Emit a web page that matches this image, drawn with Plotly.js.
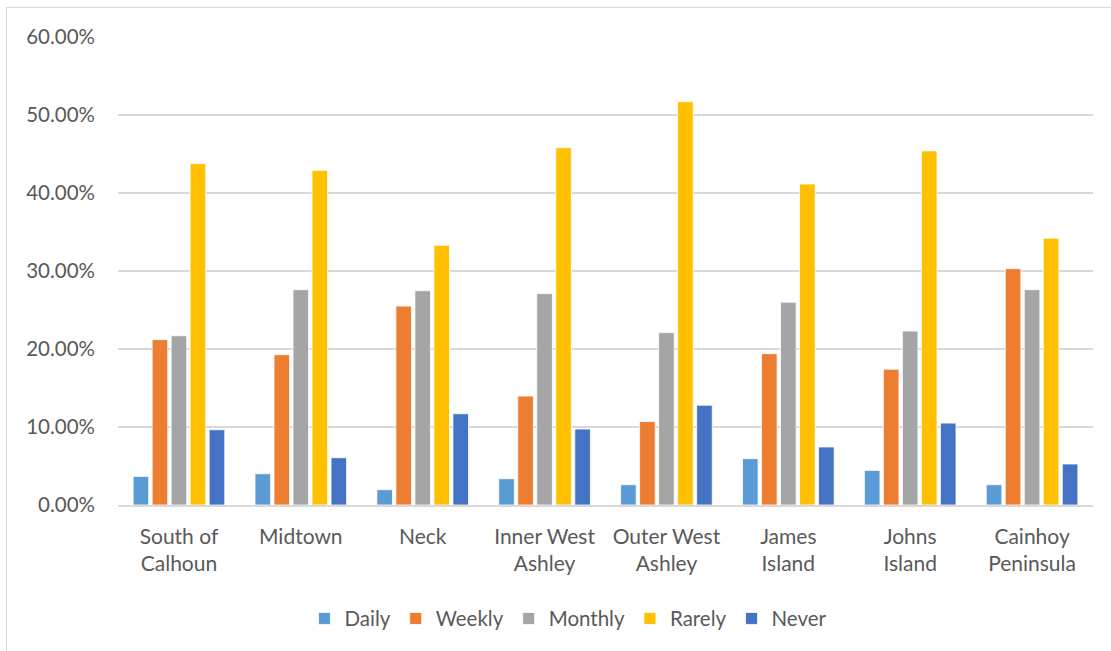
<!DOCTYPE html>
<html>
<head>
<meta charset="utf-8">
<script src="https://cdn.plot.ly/plotly-3.0.1.min.js"></script>
<style>
html,body{margin:0;padding:0;background:#fff;overflow:hidden;}
#frame{position:absolute;left:6px;top:7px;width:1120px;height:660px;border:1px solid #d9d9d9;box-sizing:border-box;pointer-events:none;z-index:5;}
#chart{position:absolute;left:0;top:0;width:1111px;height:651px;}
</style>
</head>
<body>
<div id="chart"></div>
<div id="frame"></div>
<script>
const categories = ["South of<br>Calhoun","Midtown","Neck","Inner West<br>Ashley","Outer West<br>Ashley","James<br>Island","Johns<br>Island","Cainhoy<br>Peninsula"];
const daily   = [3.67, 4.01, 1.96, 3.37, 2.60, 5.94, 4.44, 2.60];
const weekly  = [21.2, 19.27, 25.5, 13.97, 10.7, 19.4, 17.4, 30.3];
const monthly = [21.7, 27.6, 27.47, 27.1, 22.1, 26.0, 22.3, 27.6];
const rarely  = [43.76, 42.9, 33.3, 45.8, 51.7, 41.15, 45.4, 34.2];
const never   = [9.65, 6.06, 11.7, 9.74, 12.8, 7.44, 10.5, 5.26];
const seriesNames = ["Daily","Weekly","Monthly","Rarely","Never"];
const seriesValues = [daily, weekly, monthly, rarely, never];
const colors = ["#5b9bd5","#ed7d31","#a5a5a5","#ffc000","#4472c4"];

const traces = seriesNames.map((n,i)=>({
  type:'bar', name:n, x:categories, y:seriesValues[i],
  marker:{color:colors[i], line:{color:'#ffffff', width:0.8}},
  hoverinfo:'skip'
}));

const fam = 'Lato, "Open Sans", sans-serif';
const xfont = {family:fam, size:21, color:'#595959'};
const yfont = {family:fam, size:20.5, color:'#595959'};
const lfont = {family:fam, size:20.5, color:'#595959'};
const layout = {
  width:1111, height:651,
  margin:{l:118, r:18, t:37, b:146, autoexpand:false},
  paper_bgcolor:'rgba(0,0,0,0)', plot_bgcolor:'#fff',
  font:xfont,
  barmode:'group', bargap:0.22, bargroupgap:0.18,
  showlegend:true,
  legend:{orientation:'h', x:0.462, xanchor:'center', y:-0.2, yanchor:'top', font:lfont, itemwidth:30, tracegroupgap:0},
  xaxis:{type:'category', showgrid:false, showline:true, linecolor:'#d9d9d9', linewidth:1.5, ticks:'', tickfont:xfont, ticklen:0, zeroline:false, automargin:false, ticklabelstandoff:12},
  yaxis:{range:[0,60], dtick:10, tick0:0, tickformat:'.2f', ticksuffix:'%', showgrid:true, gridcolor:'#d9d9d9', gridwidth:1.5, zeroline:false, showline:false, tickfont:yfont, ticks:'', automargin:false, ticklabelstandoff:22}
};
Plotly.newPlot('chart', traces, layout, {staticPlot:true, displayModeBar:false});
</script>
</body>
</html>
